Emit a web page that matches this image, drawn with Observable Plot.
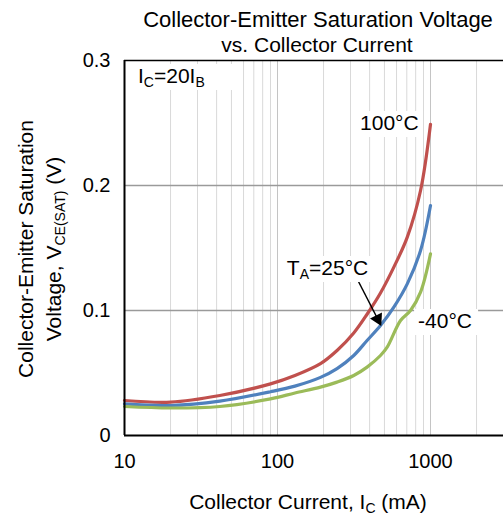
<!DOCTYPE html>
<html><head><meta charset="utf-8">
<script src="https://cdn.jsdelivr.net/npm/d3@7"></script>
<script src="https://cdn.jsdelivr.net/npm/@observablehq/plot@0.6"></script>
<style>
body{margin:0;background:#fff;}
#wrap{position:relative;width:503px;height:520px;overflow:hidden;}
#wrap svg{position:absolute;left:0;top:0;}
</style></head>
<body><div id="wrap"></div>
<script>
// Collector current (mA) and VCE(SAT) (V) per temperature
const current100 = [10, 20, 42, 90, 130, 191, 245, 315, 385, 471, 576, 705, 861, 1000];
const v100       = [0.028, 0.0267, 0.032, 0.0413, 0.048, 0.0575, 0.068, 0.082, 0.097, 0.114, 0.1347, 0.1587, 0.196, 0.249];
const current25  = [10, 20, 42, 90, 130, 191, 245, 315, 385, 471, 576, 705, 861, 1000];
const v25        = [0.0253, 0.024, 0.0275, 0.035, 0.0395, 0.0465, 0.0535, 0.064, 0.076, 0.088, 0.1027, 0.1213, 0.148, 0.184];
const currentM40 = [10, 20, 42, 90, 130, 191, 245, 315, 385, 471, 521, 637, 740, 861, 1000];
const vM40       = [0.0232, 0.022, 0.0232, 0.0293, 0.034, 0.0387, 0.0427, 0.048, 0.0547, 0.064, 0.0707, 0.092, 0.100, 0.1147, 0.1453];
const xTicks = [10, 100, 1000];
const yTicks = [0, 0.1, 0.2, 0.3];
const minorX = [20,30,40,50,60,70,80,90,200,300,400,500,600,700,800,900,2000];
const majorX = [100, 1000];
const colors = {"100°C":"#c0504d","25°C":"#4f81bd","-40°C":"#9bbb59"};

const rows = [];
current100.forEach((c,i)=>rows.push({I:c,V:v100[i],T:"100°C"}));
current25.forEach((c,i)=>rows.push({I:c,V:v25[i],T:"25°C"}));
currentM40.forEach((c,i)=>rows.push({I:c,V:vM40[i],T:"-40°C"}));

const FONT = '"Liberation Sans", Arial, sans-serif';
const arrowData = [{x1: 333, y1: 0.1248, x2: 452, y2: 0.0932}];

const plot = Plot.plot({
  width: 503, height: 520,
  marginLeft: 124, marginRight: 0, marginTop: 60, marginBottom: 85,
  style: {fontFamily: FONT, fontSize: "20px", color: "#000", background: "#fff"},
  x: {type: "log", domain: [10, 3000], label: null},
  y: {domain: [0, 0.3], label: null},
  marks: [
    Plot.ruleX(minorX, {stroke: "#d9d9d9", strokeWidth: 1}),
    Plot.ruleX(majorX, {stroke: "#c4c4c4", strokeWidth: 1}),
    Plot.ruleY([0.1, 0.2], {stroke: "#9a9a9a", strokeWidth: 1.5}),
    Plot.ruleY([0.3], {stroke: "#000", strokeWidth: 1.5}),
    Plot.line(rows, {x: "I", y: "V", z: "T", stroke: d => colors[d.T], strokeWidth: 3.2, curve: "catmull-rom"}),
    Plot.ruleX([10], {stroke: "#000", strokeWidth: 2}),
    Plot.ruleY([0], {stroke: "#000", strokeWidth: 2}),
    Plot.link(arrowData, {x1: "x1", y1: "y1", x2: "x2", y2: "y2", stroke: "#000", strokeWidth: 1.5}),
    Plot.dot(arrowData, {x: "x2", y: "y2", symbol: "triangle", r: 5, fill: "#000", stroke: null, rotate: 153}),
    Plot.axisX(xTicks, {tickSize: 0, tickPadding: 18, fontSize: 20, tickFormat: d => String(d)}),
    Plot.axisY(yTicks, {tickSize: 0, tickPadding: 14, fontSize: 20, tickFormat: d => d === 0 ? "0" : d3.format(".1f")(d)})
  ]
});
const wrap = document.getElementById("wrap");
wrap.appendChild(plot);

const sx = plot.scale("x"), sy = plot.scale("y");
const NS = "http://www.w3.org/2000/svg";
const ov = document.createElementNS(NS, "svg");
ov.setAttribute("width", 503); ov.setAttribute("height", 520);
ov.style.fontFamily = FONT;
wrap.appendChild(ov);

// parts: array of [text, isSub]
function txt(parts, x, y, opts = {}) {
  const fs = opts.size || 21;
  if (opts.box) {
    const r = document.createElementNS(NS, "rect");
    r.setAttribute("x", opts.box[0]); r.setAttribute("y", opts.box[1]);
    r.setAttribute("width", opts.box[2]); r.setAttribute("height", opts.box[3]);
    r.setAttribute("fill", "#fff");
    ov.appendChild(r);
  }
  const t = document.createElementNS(NS, "text");
  t.setAttribute("font-size", fs);
  t.setAttribute("fill", "#000");
  t.setAttribute("text-anchor", opts.anchor || "start");
  if (opts.rotate) t.setAttribute("transform", `translate(${x},${y}) rotate(-90)`);
  else { t.setAttribute("x", x); t.setAttribute("y", y); }
  let sub = false;
  for (const [s, isSub] of parts) {
    const ts = document.createElementNS(NS, "tspan");
    ts.textContent = s;
    if (isSub) { ts.setAttribute("font-size", Math.round(fs * 0.68)); if (!sub) ts.setAttribute("dy", 4); }
    else if (sub) ts.setAttribute("dy", -4);
    sub = isSub;
    t.appendChild(ts);
  }
  ov.appendChild(t);
  return t;
}
// titles
txt([["Collector-Emitter Saturation Voltage"]], 318, 27, {anchor: "middle", size: 22});
txt([["vs. Collector Current"]], 317, 52, {anchor: "middle"});
// axis titles
txt([["Collector Current, I"], ["C", true], [" (mA)"]], 308, 509, {anchor: "middle"});
txt([["Collector-Emitter Saturation"]], 33, 249, {anchor: "middle", rotate: true});
txt([["Voltage, V"], ["CE(SAT)", true], [" (V)"]], 61, 249, {anchor: "middle", rotate: true});
// annotations placed through the scales
function ann(parts, I, V, w) {
  const x = sx.apply(I), y = sy.apply(V);
  txt(parts, x, y, {box: [x - 4, y - 19, w, 26]});
}
ann([["I"], ["C", true], ["=20I"], ["B", true]], 12.35, 0.2816, 100);
ann([["100°C"]], 349, 0.244, 67);
ann([["T"], ["A", true], ["=25°C"]], 116, 0.128, 92);
ann([["-40°C"]], 836, 0.0856, 64);
</script></body></html>
